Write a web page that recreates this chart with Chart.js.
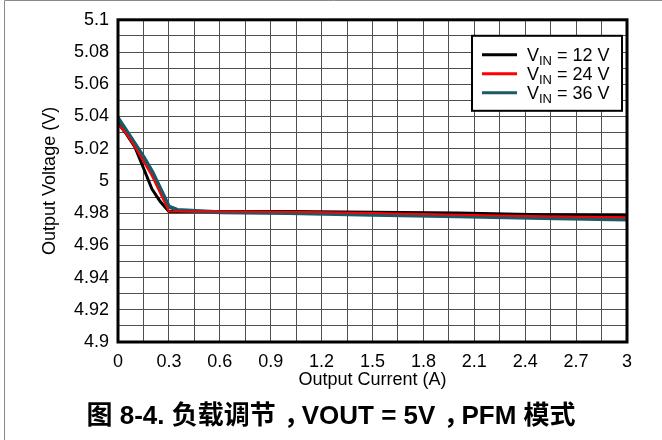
<!DOCTYPE html>
<html>
<head>
<meta charset="utf-8">
<script src="https://cdn.jsdelivr.net/npm/chart.js@4.4.1/dist/chart.umd.min.js"></script>
<style>
  html, body { margin: 0; padding: 0; background: #fff; }
  #wrap { position: relative; width: 662px; height: 440px; overflow: hidden; }
  #c { position: absolute; left: 0; top: 0; }
  #figtitle {
    position: absolute; left: 0; top: 399px; width: 662px;
    text-align: center; font-weight: bold; font-size: 26px; line-height: 32px;
    font-family: 'Liberation Sans', 'Noto Sans CJK SC', sans-serif; color: #000;
    white-space: nowrap;
  }
  #figtitle .punct { position: relative; left: 8px; }
</style>
</head>
<body>
<div id="wrap">
  <canvas id="c" width="662" height="440"></canvas>
  <div id="figtitle" lang="zh-CN"></div>
</div>
<script>
// ---- data ----
const current12 = [0, 0.05, 0.1, 0.15, 0.2, 0.25, 0.3, 0.5, 1.0, 1.5, 2.0, 2.5, 3.0];
const vout12    = [5.036, 5.029, 5.021, 5.008, 4.995, 4.987, 4.981, 4.981, 4.981, 4.9805, 4.980, 4.979, 4.9785];
const current24 = [0, 0.05, 0.1, 0.15, 0.2, 0.25, 0.3, 0.5, 1.0, 1.5, 2.0, 2.5, 3.0];
const vout24    = [5.035, 5.029, 5.021, 5.012, 5.003, 4.992, 4.981, 4.981, 4.9808, 4.980, 4.979, 4.978, 4.9775];
const current36 = [0, 0.05, 0.1, 0.15, 0.2, 0.25, 0.3, 0.35, 0.6, 1.0, 1.5, 2.0, 2.5, 3.0];
const vout36    = [5.039, 5.031, 5.023, 5.015, 5.006, 4.995, 4.984, 4.982, 4.9805, 4.980, 4.979, 4.978, 4.977, 4.976];
const seriesVin = ['12 V', '24 V', '36 V'];
const xTickLabels = ['0','0.3','0.6','0.9','1.2','1.5','1.8','2.1','2.4','2.7','3'];
const yTickLabels = ['4.9','4.92','4.94','4.96','4.98','5','5.02','5.04','5.06','5.08','5.1'];
const xTitle = 'Output Current (A)';
const yTitle = 'Output Voltage (V)';
const figTitle = '图 8-4. 负载调节，VOUT = 5V，PFM 模式';

// build the figure caption as real text; full-width commas centred in their em box
(function () {
  const el = document.getElementById('figtitle');
  figTitle.split(/(，)/).forEach(part => {
    if (part === '，') {
      const s = document.createElement('span');
      s.className = 'punct';
      s.textContent = part;
      el.appendChild(s);
    } else if (part) {
      el.appendChild(document.createTextNode(part));
    }
  });
})();

const pts = (xs, ys) => xs.map((x, i) => ({ x: x, y: ys[i] }));
const FONT = "'Liberation Sans', Arial, sans-serif";

const frame = {
  id: 'frame',
  beforeDraw(chart) {
    const ctx = chart.ctx;
    ctx.save();
    ctx.strokeStyle = '#8a8a8a';
    ctx.lineWidth = 1;
    ctx.beginPath();
    ctx.moveTo(4.5, 440); ctx.lineTo(4.5, 0.5); ctx.lineTo(662, 0.5);
    ctx.stroke();
    ctx.restore();
  },
  afterDatasetsDraw(chart) {
    const a = chart.chartArea, ctx = chart.ctx;
    ctx.save();
    ctx.strokeStyle = '#000';
    ctx.lineWidth = 3;
    ctx.strokeRect(a.left, a.top, a.right - a.left, a.bottom - a.top);
    // legend
    const bx = a.right - 155, by = a.top + 16, bw = 150, bh = 75;
    ctx.fillStyle = '#fff';
    ctx.fillRect(bx, by, bw, bh);
    ctx.lineWidth = 2;
    ctx.strokeRect(bx, by, bw, bh);
    chart.data.datasets.forEach((ds, i) => {
      const y = by + 19 + i * 19;
      ctx.strokeStyle = ds.borderColor;
      ctx.lineWidth = 3;
      ctx.beginPath();
      ctx.moveTo(bx + 10, y); ctx.lineTo(bx + 45, y); ctx.stroke();
      ctx.fillStyle = '#000';
      ctx.textBaseline = 'alphabetic';
      ctx.textAlign = 'left';
      let tx = bx + 55;
      const base = y + 6;
      ctx.font = '18px ' + FONT;
      ctx.fillText('V', tx, base);
      tx += ctx.measureText('V').width;
      ctx.font = '13px ' + FONT;
      ctx.fillText('IN', tx, base + 4);
      tx += ctx.measureText('IN').width;
      ctx.font = '18px ' + FONT;
      ctx.fillText(' = ' + seriesVin[i], tx, base);
    });
    ctx.restore();
  }
};

new Chart(document.getElementById('c'), {
  type: 'line',
  data: {
    datasets: [
      { label: 'VIN = ' + seriesVin[0], data: pts(current12, vout12), borderColor: '#000000', borderWidth: 3, order: 2 },
      { label: 'VIN = ' + seriesVin[1], data: pts(current24, vout24), borderColor: '#ff0000', borderWidth: 2, order: 0 },
      { label: 'VIN = ' + seriesVin[2], data: pts(current36, vout36), borderColor: '#1c5866', borderWidth: 4, order: 1 }
    ]
  },
  options: {
    responsive: false,
    animation: false,
    devicePixelRatio: 1,
    elements: { point: { radius: 0 }, line: { tension: 0, borderJoinStyle: 'round', borderCapStyle: 'round' } },
    layout: { padding: { left: 0, right: 35, top: 17, bottom: 41 } },
    plugins: {
      legend: { display: false },
      tooltip: { enabled: false },
      title: { display: false }
    },
    scales: {
      x: {
        type: 'linear', min: 0, max: 3,
        afterFit(s) { s.height = 57; },
        afterBuildTicks(s) { s.ticks = Array.from({ length: 21 }, (_, i) => ({ value: i * 0.15 })); },
        ticks: {
          color: '#000', padding: 9, maxRotation: 0, autoSkip: false,
          font: { family: FONT, size: 18 },
          callback: (v, i) => (i % 2 === 0 ? xTickLabels[i / 2] : '')
        },
        grid: { color: '#505050', lineWidth: 1, drawTicks: false },
        border: { display: false },
        title: { display: true, text: xTitle, color: '#000', font: { family: FONT, size: 18 }, padding: { top: 0, bottom: 8 } }
      },
      y: {
        type: 'linear', min: 4.9, max: 5.1,
        afterFit(s) { s.width = 118; },
        afterBuildTicks(s) { s.ticks = Array.from({ length: 21 }, (_, i) => ({ value: 4.9 + i * 0.01 })); },
        ticks: {
          color: '#000', padding: 9, autoSkip: false,
          font: { family: FONT, size: 18 },
          callback: (v, i) => (i % 2 === 0 ? yTickLabels[i / 2] : '')
        },
        grid: { color: '#505050', lineWidth: 1, drawTicks: false },
        border: { display: false },
        title: { display: true, text: yTitle, color: '#000', font: { family: FONT, size: 18 }, padding: { top: 39, bottom: 0 } }
      }
    }
  },
  plugins: [frame]
});
</script>
</body>
</html>
